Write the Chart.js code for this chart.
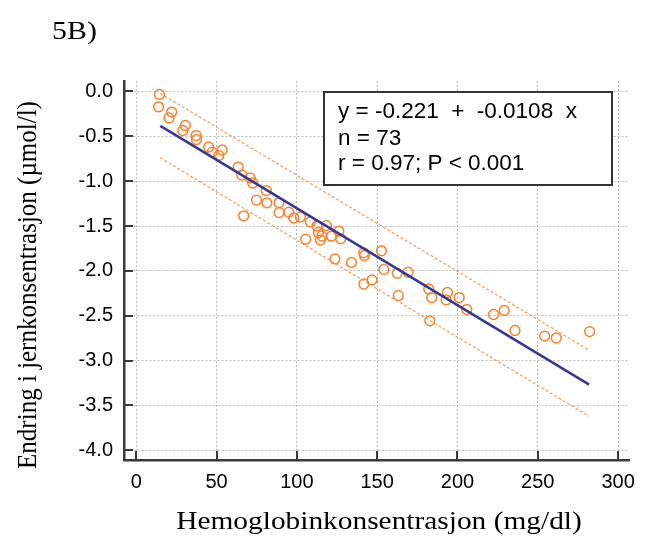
<!DOCTYPE html>
<html>
<head>
<meta charset="utf-8">
<script src="https://cdn.jsdelivr.net/npm/chart.js@4/dist/chart.umd.min.js"></script>
<style>
  html, body { margin: 0; padding: 0; background: #ffffff; }
  #wrap { width: 649px; height: 542px; }
</style>
</head>
<body>
<div id="wrap"><canvas id="c" width="649" height="542"></canvas></div>
<script>
// ---- data ----
const hemoglobin = [14.5,13.9,22.1,20.4,30.6,29.0,37.3,37.5,45.1,47.3,53.5,51.4,63.5,65.7,71.0,72.5,81.0,74.9,81.3,66.9,88.9,88.9,95.0,98.1,102.2,108.4,112.5,118.4,113.4,115.6,114.7,121.5,126.2,127.3,105.5,123.7,134.0,141.7,142.1,152.7,154.2,162.5,169.3,141.7,146.8,163.2,182.1,184.0,182.8,193.8,193.0,201.1,205.8,222.5,229.1,235.8,254.3,261.5,282.3];
const ironChange = [-0.033,-0.171,-0.229,-0.295,-0.379,-0.435,-0.491,-0.535,-0.619,-0.677,-0.652,-0.713,-0.842,-0.931,-0.964,-1.020,-1.104,-1.210,-1.241,-1.386,-1.241,-1.349,-1.346,-1.410,-1.399,-1.453,-1.499,-1.494,-1.572,-1.611,-1.656,-1.613,-1.557,-1.642,-1.647,-1.867,-1.906,-1.798,-1.828,-1.776,-1.984,-2.026,-2.015,-2.146,-2.101,-2.274,-2.202,-2.297,-2.556,-2.241,-2.324,-2.297,-2.430,-2.486,-2.441,-2.664,-2.726,-2.748,-2.676];
const fitX = [15, 282];
const fitY = [-0.383, -3.267];
const bandX = [15, 150, 282];
const bandUpper = [-0.022, -1.47, -2.884];
const bandLower = [-0.739, -2.20, -3.62];
const xTicks = [0, 50, 100, 150, 200, 250, 300];
const yTicks = [0.0, -0.5, -1.0, -1.5, -2.0, -2.5, -3.0, -3.5, -4.0];
const statLines = ["y = -0.221  +  -0.0108  x", "n = 73", "r = 0.97; P < 0.001"];
const panelLabel = "5B)";
const xTitle = "Hemoglobinkonsentrasjon (mg/dl)";
const yTitle = "Endring i jernkonsentrasjon (\u00b5mol/l)";

const toPts = (xs, ys) => xs.map((x, i) => ({x: x, y: ys[i]}));

const ORANGE = '#f8822a';
const AXIS = '#3a3a3a';
const SERIF = '"Liberation Serif", "Times New Roman", serif';
const SANS = '"Liberation Sans", Arial, sans-serif';

const extras = {
  id: 'extras',
  afterDatasetsDraw(chart) {
    const ctx = chart.ctx;
    // stats box
    ctx.save();
    ctx.fillStyle = '#ffffff';
    ctx.fillRect(324, 92, 288, 93);
    ctx.strokeStyle = '#333333';
    ctx.lineWidth = 2;
    ctx.strokeRect(324, 92, 288, 93);
    ctx.fillStyle = '#000000';
    ctx.font = '22.5px ' + SANS;
    ctx.textBaseline = 'middle';
    ctx.textAlign = 'left';
    const ys = [112, 138.5, 164];
    statLines.forEach((t, i) => ctx.fillText(t, 338, ys[i]));
    ctx.restore();
  },
  afterDraw(chart) {
    const ctx = chart.ctx;
    const xs = chart.scales.x, ysc = chart.scales.y;
    const area = chart.chartArea;
    ctx.save();
    ctx.strokeStyle = AXIS;
    ctx.lineWidth = 2;
    xs.ticks.forEach(t => {
      const px = Math.round(xs.getPixelForValue(t.value));
      ctx.beginPath(); ctx.moveTo(px, area.bottom); ctx.lineTo(px, area.bottom - 9); ctx.stroke();
    });
    ysc.ticks.forEach(t => {
      const py = Math.round(ysc.getPixelForValue(t.value));
      ctx.beginPath(); ctx.moveTo(area.left, py); ctx.lineTo(area.left + 9, py); ctx.stroke();
    });
    ctx.fillStyle = '#000000';
    ctx.textBaseline = 'middle';
    // panel label
    ctx.save();
    ctx.translate(52, 32);
    ctx.scale(1.15, 1);
    ctx.font = '26px ' + SERIF;
    ctx.textAlign = 'left';
    ctx.fillText(panelLabel, 0, 0);
    ctx.restore();
    // x title
    ctx.save();
    ctx.translate(379, 522);
    ctx.scale(1.13, 1);
    ctx.font = '26px ' + SERIF;
    ctx.textAlign = 'center';
    ctx.fillText(xTitle, 0, 0);
    ctx.restore();
    // y title
    ctx.save();
    ctx.translate(29, 285);
    ctx.rotate(-Math.PI / 2);
    ctx.scale(1, 1.12);
    ctx.textAlign = 'center';
    ctx.font = '25px ' + SERIF;
    ctx.fillText(yTitle, 0, 0);
    ctx.restore();
    ctx.restore();
  }
};

const gridOpts = {
  display: true,
  drawOnChartArea: true,
  drawTicks: false,
  color: '#b9b9b9',
  lineWidth: 1
};

new Chart(document.getElementById('c'), {
  type: 'scatter',
  data: {
    datasets: [
      {
        label: 'data',
        data: toPts(hemoglobin, ironChange),
        showLine: false,
        pointStyle: 'circle',
        pointRadius: 4.9,
        pointBorderWidth: 1.5,
        pointBorderColor: ORANGE,
        pointBackgroundColor: 'rgba(0,0,0,0)',
        order: 3
      },
      {
        label: 'upper',
        data: toPts(bandX, bandUpper),
        showLine: true,
        borderColor: '#f59a55',
        borderWidth: 1.2,
        borderDash: [3, 2],
        pointRadius: 0,
        fill: false,
        order: 2
      },
      {
        label: 'lower',
        data: toPts(bandX, bandLower),
        showLine: true,
        borderColor: '#f59a55',
        borderWidth: 1.2,
        borderDash: [3, 2],
        pointRadius: 0,
        fill: false,
        order: 2
      },
      {
        label: 'fit',
        data: toPts(fitX, fitY),
        showLine: true,
        borderColor: '#363894',
        borderWidth: 2.5,
        pointRadius: 0,
        fill: false,
        order: 1
      }
    ]
  },
  options: {
    responsive: false,
    animation: false,
    devicePixelRatio: 1,
    layout: { padding: { left: 10, right: 20, top: 81, bottom: 0 } },
    plugins: {
      legend: { display: false },
      tooltip: { enabled: false },
      title: { display: false }
    },
    scales: {
      x: {
        type: 'linear',
        min: -7.6,
        max: 306.8,
        afterBuildTicks: s => { s.ticks = xTicks.map(v => ({ value: v })); },
        afterFit: s => { s.height = 82; },
        grid: gridOpts,
        border: { display: true, color: AXIS, width: 2.5, dash: [2, 2] },
        ticks: {
          color: '#000000',
          font: { family: SANS, size: 20 },
          padding: 10,
          maxRotation: 0,
          callback: v => String(v)
        },
        title: { display: false }
      },
      y: {
        type: 'linear',
        min: -4.108,
        max: 0.117,
        afterBuildTicks: s => { s.ticks = yTicks.map(v => ({ value: v })); },
        afterFit: s => { s.width = 114; },
        grid: gridOpts,
        border: { display: true, color: AXIS, width: 2.5, dash: [2, 2] },
        ticks: {
          color: '#000000',
          font: { family: SANS, size: 20 },
          padding: 11,
          callback: v => Number(v).toFixed(1)
        },
        title: { display: false }
      }
    }
  },
  plugins: [extras]
});
</script>
</body>
</html>
